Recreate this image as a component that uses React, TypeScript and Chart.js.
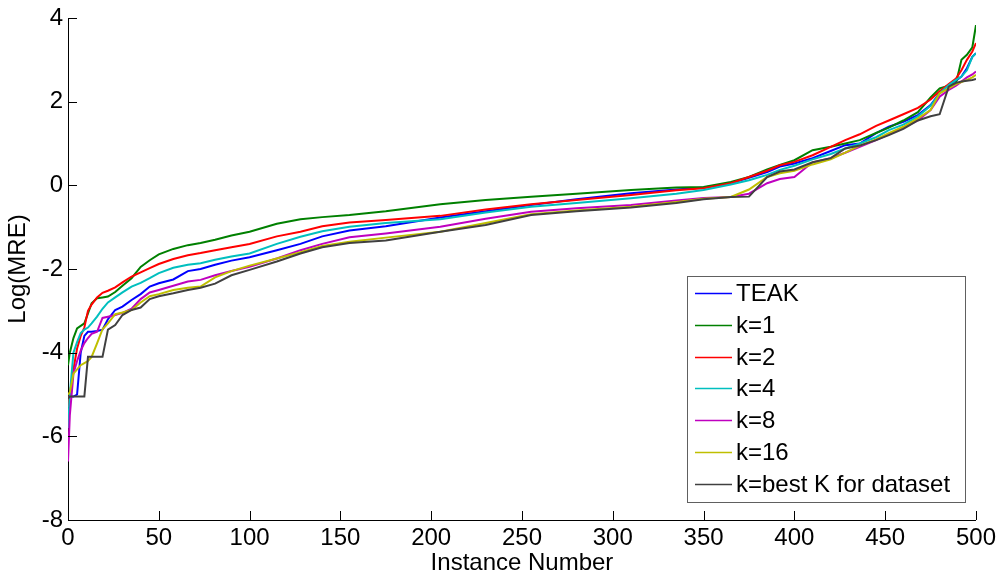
import React, { useEffect, useRef } from 'react';
import { Chart, registerables } from 'chart.js';

Chart.register(...registerables);

const INSTANCE = [0, 1, 3, 5, 7, 9, 11, 13, 16, 19, 22, 26, 30, 35, 40, 45, 50, 58, 66, 73, 81, 90, 100, 115, 128, 140, 155, 175, 205, 230, 255, 280, 310, 335, 350, 365, 375, 385, 392, 400, 410, 420, 428, 436, 445, 452, 460, 468, 475, 480, 485, 489, 492, 495, 498, 500];

const TEAK = [-5.1, -5.05, -5.05, -5.0, -4.0, -3.6, -3.5, -3.5, -3.48, -3.45, -3.2, -2.98, -2.9, -2.74, -2.6, -2.42, -2.34, -2.25, -2.05, -2.0, -1.9, -1.8, -1.72, -1.55, -1.4, -1.22, -1.08, -0.98, -0.77, -0.62, -0.47, -0.33, -0.19, -0.1, -0.05, 0.05, 0.18, 0.32, 0.45, 0.52, 0.65, 0.82, 0.96, 1.0, 1.25, 1.4, 1.52, 1.68, 1.92, 2.2, 2.4, 2.5, 2.6, 2.8, 3.07, 3.16];
const K1 = [-4.3, -4.0, -3.65, -3.42, -3.36, -3.3, -3.06, -2.82, -2.7, -2.68, -2.66, -2.55, -2.4, -2.22, -1.95, -1.79, -1.65, -1.52, -1.43, -1.38, -1.3, -1.2, -1.11, -0.92, -0.81, -0.76, -0.71, -0.62, -0.45, -0.35, -0.27, -0.2, -0.11, -0.05, -0.04, 0.08, 0.2, 0.38, 0.49, 0.6, 0.84, 0.92, 1.0, 1.08, 1.25, 1.38, 1.55, 1.75, 2.1, 2.32, 2.38, 2.44, 3.0, 3.12, 3.3, 3.83];
const K2 = [-5.3, -5.0, -4.4, -3.9, -3.6, -3.4, -3.0, -2.85, -2.68, -2.57, -2.52, -2.44, -2.32, -2.18, -2.08, -1.98, -1.88, -1.76, -1.67, -1.62, -1.55, -1.48, -1.4, -1.22, -1.11, -0.98, -0.89, -0.83, -0.73, -0.58, -0.45, -0.35, -0.23, -0.12, -0.07, 0.05, 0.2, 0.35, 0.48, 0.56, 0.72, 0.92, 1.08, 1.22, 1.42, 1.55, 1.7, 1.85, 2.05, 2.25, 2.42, 2.55, 2.75, 3.0, 3.2, 3.4];
const K4 = [-5.8, -5.0, -4.0, -3.75, -3.53, -3.45, -3.4, -3.3, -3.14, -2.95, -2.8, -2.68, -2.56, -2.42, -2.33, -2.22, -2.1, -1.97, -1.9, -1.86, -1.78, -1.7, -1.63, -1.4, -1.23, -1.1, -0.99, -0.9, -0.81, -0.65, -0.51, -0.42, -0.31, -0.2, -0.11, 0.02, 0.12, 0.25, 0.37, 0.47, 0.62, 0.75, 0.88, 1.0, 1.15, 1.32, 1.45, 1.65, 1.9, 2.2, 2.4, 2.52, 2.6, 2.75, 3.07, 3.16];
const K8 = [-6.6, -5.5, -4.5, -4.2, -3.95, -3.77, -3.65, -3.55, -3.5, -3.17, -3.14, -3.1, -3.05, -2.95, -2.72, -2.56, -2.5, -2.4, -2.3, -2.26, -2.15, -2.05, -1.95, -1.75, -1.55, -1.4, -1.24, -1.15, -0.99, -0.8, -0.63, -0.55, -0.47, -0.36, -0.3, -0.28, -0.2, 0.05, 0.15, 0.2, 0.55, 0.65, 0.78, 0.92, 1.08, 1.22, 1.38, 1.55, 1.8, 2.12, 2.28, 2.38, 2.48, 2.58, 2.65, 2.72];
const K16 = [-5.0, -4.95, -4.5, -4.4, -4.3, -4.25, -4.2, -4.1, -3.78, -3.44, -3.3, -3.08, -3.04, -2.98, -2.8, -2.65, -2.6, -2.5, -2.45, -2.42, -2.2, -2.05, -1.92, -1.75, -1.6, -1.45, -1.35, -1.25, -1.11, -0.9, -0.69, -0.6, -0.51, -0.4, -0.32, -0.28, -0.1, 0.2, 0.29, 0.35, 0.5, 0.62, 0.78, 0.95, 1.1, 1.25, 1.4, 1.6, 1.8, 2.2, 2.32, 2.42, 2.47, 2.52, 2.58, 2.64];
const KBEST = [-5.1, -5.05, -5.05, -5.05, -5.05, -5.05, -4.1, -4.1, -4.1, -4.1, -3.45, -3.34, -3.1, -2.98, -2.92, -2.72, -2.65, -2.58, -2.5, -2.45, -2.35, -2.15, -2.02, -1.82, -1.63, -1.48, -1.38, -1.32, -1.11, -0.95, -0.71, -0.62, -0.53, -0.42, -0.33, -0.28, -0.27, 0.2, 0.33, 0.38, 0.55, 0.65, 0.88, 0.95, 1.08, 1.2, 1.35, 1.55, 1.65, 1.7, 2.36, 2.45, 2.48, 2.5, 2.52, 2.54];

const SERIES_LABELS = ['TEAK', 'k=1', 'k=2', 'k=4', 'k=8', 'k=16', 'k=best K for dataset'];
const SERIES_VALUES = [TEAK, K1, K2, K4, K8, K16, KBEST];
const SERIES_COLORS = ['#0000ff', '#008000', '#ff0000', '#00bfbf', '#bf00bf', '#bfbf00', '#404040'];

const X_TITLE = 'Instance Number';
const Y_TITLE = 'Log(MRE)';

const FONT = "Arial, 'Liberation Sans', Helvetica, sans-serif";

const innerTicks = {
  id: 'innerTicks',
  afterDraw(chart: any) {
    const { ctx, chartArea, scales } = chart;
    ctx.save();
    ctx.strokeStyle = '#000';
    ctx.lineWidth = 1;
    scales.x.ticks.forEach((t: any) => {
      const px = Math.round(scales.x.getPixelForValue(t.value)) + 0.5;
      ctx.beginPath();
      ctx.moveTo(px, chartArea.bottom);
      ctx.lineTo(px, chartArea.bottom - 9);
      ctx.stroke();
    });
    scales.y.ticks.forEach((t: any) => {
      const py = Math.round(scales.y.getPixelForValue(t.value)) + 0.5;
      ctx.beginPath();
      ctx.moveTo(chartArea.left, py);
      ctx.lineTo(chartArea.left + 9, py);
      ctx.stroke();
    });
    ctx.restore();
  },
};

const boxLegend = {
  id: 'boxLegend',
  afterDraw(chart: any) {
    const { ctx, chartArea } = chart;
    const w = 278;
    const h = 226;
    const x0 = Math.round(chartArea.right - 11 - w);
    const y0 = Math.round(chartArea.bottom - 18 - h);
    ctx.save();
    ctx.fillStyle = '#fff';
    ctx.fillRect(x0, y0, w, h);
    ctx.strokeStyle = '#606060';
    ctx.lineWidth = 1;
    ctx.strokeRect(x0 + 0.5, y0 + 0.5, w, h);
    ctx.font = `24px ${FONT}`;
    ctx.textBaseline = 'middle';
    ctx.textAlign = 'left';
    chart.data.datasets.forEach((ds: any, i: number) => {
      const cy = Math.round(y0 + 17 + i * 31.8) + 0.5;
      ctx.strokeStyle = ds.borderColor;
      ctx.lineWidth = 1.5;
      ctx.beginPath();
      ctx.moveTo(x0 + 8, cy);
      ctx.lineTo(x0 + 45, cy);
      ctx.stroke();
      ctx.fillStyle = '#000';
      ctx.fillText(ds.label, x0 + 49, cy + 1);
    });
    ctx.restore();
  },
};

export default function App() {
  const ref = useRef<HTMLCanvasElement | null>(null);

  useEffect(() => {
    document.body.style.margin = '0';
    const canvas = ref.current;
    if (!canvas) return;
    const datasets = SERIES_LABELS.map((label, i) => ({
      label,
      data: INSTANCE.map((x, j) => ({ x, y: SERIES_VALUES[i][j] })),
      borderColor: SERIES_COLORS[i],
      backgroundColor: SERIES_COLORS[i],
      borderWidth: 2,
      pointRadius: 0,
      tension: 0,
      fill: false,
      order: SERIES_LABELS.length - i,
    }));
    const chart = new Chart(canvas, {
      type: 'line',
      data: { datasets },
      options: {
        responsive: false,
        animation: false,
        devicePixelRatio: 1,
        layout: { padding: { left: 0, top: 18, right: 25, bottom: 0 } },
        plugins: { legend: { display: false }, tooltip: { enabled: false } },
        scales: {
          x: {
            type: 'linear',
            min: 0,
            max: 500,
            ticks: { stepSize: 50, color: '#000', padding: 6, font: { family: FONT, size: 24, lineHeight: 1 }, maxRotation: 0 },
            grid: { display: false, drawTicks: false },
            border: { display: true, color: '#000', width: 1 },
            title: { display: true, text: X_TITLE, color: '#000', font: { family: FONT, size: 24, lineHeight: 1 }, padding: { top: 0, bottom: 1 } },
            afterFit(scale: any) { scale.height = 56; },
          },
          y: {
            type: 'linear',
            min: -8,
            max: 4,
            ticks: { stepSize: 2, color: '#000', padding: 5, font: { family: FONT, size: 24, lineHeight: 1 } },
            grid: { display: false, drawTicks: false },
            border: { display: true, color: '#000', width: 1 },
            title: { display: true, text: Y_TITLE, color: '#000', font: { family: FONT, size: 24, lineHeight: 1 }, padding: { top: 6, bottom: 0 } },
            afterFit(scale: any) { scale.width = 68; },
          },
        },
      },
      plugins: [innerTicks, boxLegend],
    });
    return () => chart.destroy();
  }, []);

  return (
    <div style={{ width: 1002, height: 576, background: '#fff' }}>
      <canvas ref={ref} width={1002} height={576} />
    </div>
  );
}
